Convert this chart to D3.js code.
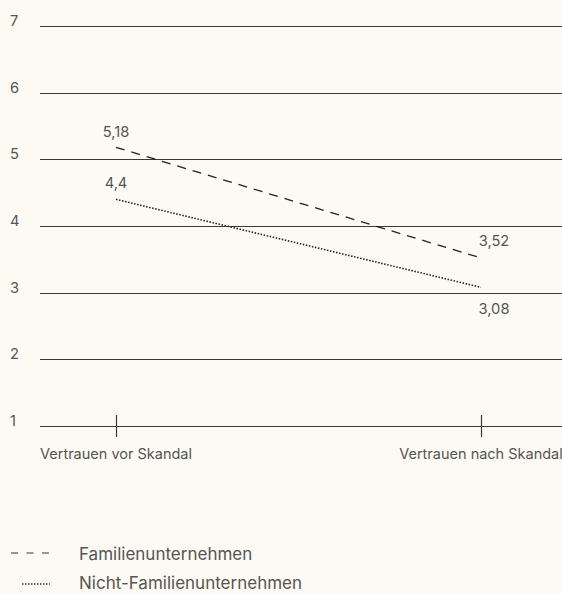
<!DOCTYPE html>
<html>
<head>
<meta charset="utf-8">
<script src="https://cdn.jsdelivr.net/npm/d3@7"></script>
<style>
  body { margin: 0; background: #fdfaf3; }
  svg { display: block; font-family: Inter, "Noto Sans", sans-serif; }
</style>
</head>
<body>
<div id="chart"></div>
<script>
// data
var categories = ["Vertrauen vor Skandal", "Vertrauen nach Skandal"];
var familien = [5.18, 3.52];
var nichtFamilien = [4.4, 3.08];
var seriesNames = ["Familienunternehmen", "Nicht-Familienunternehmen"];
var yTicks = [1, 2, 3, 4, 5, 6, 7];

var width = 562, height = 594;

var svg = d3.select("#chart")
  .append("svg")
  .attr("width", width)
  .attr("height", height);

var x = d3.scalePoint()
  .domain(categories)
  .range([116, 481]);

var y = d3.scaleLinear()
  .domain([1, 7])
  .range([426, 26]);

// gridlines
svg.append("g")
  .selectAll("line")
  .data(yTicks)
  .join("line")
  .attr("x1", 40)
  .attr("x2", width)
  .attr("y1", d => Math.round(y(d)) + 0.5)
  .attr("y2", d => Math.round(y(d)) + 0.5)
  .attr("stroke", "#3a3a3a")
  .attr("stroke-width", 1.2);

// y tick labels
svg.append("g")
  .selectAll("text")
  .data(yTicks)
  .join("text")
  .attr("x", 10)
  .attr("y", d => y(d))
  .attr("font-size", 14.7)
  .attr("fill", "#555")
  .text(d => d);

// x ticks
svg.append("g")
  .selectAll("line")
  .data(categories)
  .join("line")
  .attr("x1", d => Math.round(x(d)) + 0.5)
  .attr("x2", d => Math.round(x(d)) + 0.5)
  .attr("y1", y(1) - 11)
  .attr("y2", y(1) + 11)
  .attr("stroke", "#3a3a3a")
  .attr("stroke-width", 1.2);

svg.append("g")
  .selectAll("text")
  .data(categories)
  .join("text")
  .attr("x", d => x(d))
  .attr("y", 459)
  .attr("text-anchor", "middle")
  .attr("font-size", 14.5)
  .attr("fill", "#555")
  .text(d => d);

var line = d3.line()
  .x((d, i) => x(categories[i]))
  .y(d => y(d));

svg.append("path")
  .datum(familien)
  .attr("d", line)
  .attr("fill", "none")
  .attr("stroke", "#222")
  .attr("stroke-width", 1.3)
  .attr("stroke-dasharray", "9,7");

svg.append("path")
  .datum(nichtFamilien)
  .attr("d", line)
  .attr("fill", "none")
  .attr("stroke", "#222")
  .attr("stroke-width", 1.6)
  .attr("stroke-dasharray", "1.5,1.6");

// value labels
var fmt = v => String(v).replace(".", ",");

function valueLabel(v, i, dy) {
  svg.append("text")
    .attr("x", i == 0 ? x(categories[0]) : x(categories[1]) + 13)
    .attr("y", y(v) + dy)
    .attr("text-anchor", "middle")
    .attr("font-size", 14.7)
    .attr("fill", "#555")
    .text(fmt(v));
}
valueLabel(familien[0], 0, -10);
valueLabel(familien[1], 1, -12);
valueLabel(nichtFamilien[0], 0, -11);
valueLabel(nichtFamilien[1], 1, 27);

// legend
var legend = svg.append("g");
var dashes = ["7,8.5", "1.5,1.5"];
var legendX = [[11, 50], [22, 50]];
var legendY = [553, 584];
seriesNames.forEach(function (name, i) {
  var ly = legendY[i];
  legend.append("line")
    .attr("x1", legendX[i][0])
    .attr("x2", legendX[i][1])
    .attr("y1", ly)
    .attr("y2", ly)
    .attr("stroke", "#333")
    .attr("stroke-width", i == 0 ? 1.2 : 1.5)
    .attr("stroke-dasharray", dashes[i]);
  legend.append("text")
    .attr("x", 79)
    .attr("y", ly + (i == 0 ? 7 : 5))
    .attr("font-size", 17)
    .attr("fill", "#555")
    .text(name);
});
</script>
</body>
</html>
